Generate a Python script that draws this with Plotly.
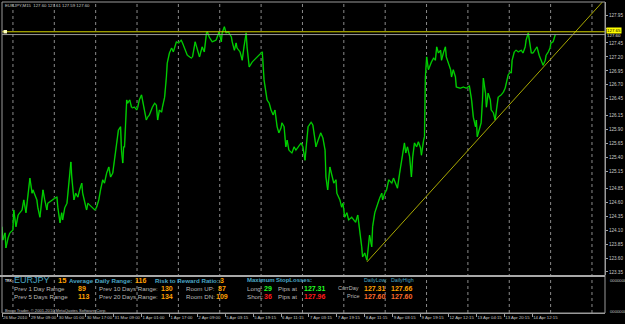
import plotly.graph_objects as go

# ---------------- data ----------------
header_text = "EURJPY,M15  127.60 127.61 127.59 127.60"

# M15 bar index (from left edge of chart) and close price
bar = [0, 2, 7, 9, 14, 18, 25, 27, 32, 37, 46, 50, 55, 59, 64, 69, 71, 80, 82, 87,
       91, 94, 98, 103, 105, 114, 121, 126, 128, 133, 137, 139, 144, 149, 151, 155, 158, 160, 162, 165,
       169, 174, 178, 183, 185, 190, 194, 197, 206, 213, 217, 222, 226, 231, 235, 240, 245, 249, 254, 258,
       263, 267, 272, 274, 277, 279, 281, 283, 286, 288, 293, 297, 299, 304, 309, 311, 315, 320, 322, 327,
       331, 334, 338, 345, 350, 354, 357, 361, 366, 368, 373, 377, 379, 384, 389, 393, 400, 405, 411, 414,
       421, 425, 434, 437, 443, 448, 453, 459, 464, 469, 471, 475, 482, 491, 494, 498, 503, 505, 510, 514,
       519, 526, 528, 533, 537, 539, 546, 551, 555, 560, 562, 567, 574, 583, 590, 597, 601, 606, 608, 613,
       617, 622, 626, 631, 635, 640, 642, 647, 651, 654, 658, 665, 670, 674, 679, 686, 690, 695, 697, 702,
       709, 713, 718, 720, 725, 731, 736, 741, 743, 747, 752, 757, 761, 766, 768, 775, 779, 782, 786, 791,
       795, 802, 807, 811, 816, 821, 825, 827, 832, 837, 839, 843, 848, 850, 855, 859, 866, 871, 873, 878,
       882, 887, 894, 898, 903, 907, 912, 917, 919, 923, 926, 930, 935, 939, 942, 946, 951, 955, 960, 962,
       967, 969, 971, 974, 978, 983, 985, 990, 994, 997, 1001, 1006, 1008, 1013, 1017, 1019, 1024, 1029, 1031, 1035,
       1040, 1042, 1051, 1058, 1065, 1072, 1077, 1079, 1081, 1086, 1088, 1090, 1095, 1099, 1102, 1104, 1109, 1111, 1115, 1120,
       1122, 1127, 1131, 1134, 1138, 1145, 1150, 1154, 1159, 1161, 1166, 1168, 1170, 1175, 1179, 1184, 1191, 1195, 1200, 1202,
       1207, 1211, 1214, 1218, 1223, 1227, 1232, 1236, 1241, 1246, 1248, 1253, 1257, 1259, 1264, 1269]

close = [124.16, 123.92, 124.05, 123.78, 123.96, 124.05, 124.10, 124.46, 124.16, 124.37, 124.46, 124.64, 124.41, 124.69, 125.03, 124.76, 124.82, 124.64, 124.51, 124.33,
         124.67, 124.82, 124.64, 124.46, 124.58, 124.64, 124.67, 124.69, 124.51, 124.23, 124.41, 124.28, 124.50, 124.58, 124.76, 125.12, 125.32, 125.05, 124.82, 124.64,
         124.76, 124.69, 124.82, 124.94, 124.76, 124.58, 124.46, 124.58, 124.51, 124.46, 124.51, 124.64, 124.82, 125.00, 124.94, 125.12, 125.23, 125.05, 125.12, 125.35,
         125.66, 125.89, 125.95, 125.53, 125.30, 125.59, 125.59, 125.95, 126.43, 126.37, 126.43, 126.30, 126.29, 126.30, 126.25, 126.29, 126.43, 126.52, 126.43, 126.20,
         126.07, 126.12, 126.16, 126.30, 126.37, 126.34, 126.07, 126.25, 126.21, 126.30, 126.48, 126.84, 127.09, 127.27, 127.36, 127.29, 127.47, 127.45, 127.50, 127.45,
         127.29, 127.23, 127.18, 127.20, 127.47, 127.32, 127.20, 127.38, 127.29, 127.63, 127.65, 127.56, 127.47, 127.50, 127.56, 127.65, 127.47, 127.63, 127.74, 127.63,
         127.65, 127.56, 127.47, 127.32, 127.45, 127.36, 127.29, 127.14, 127.38, 127.63, 127.38, 127.02, 127.11, 127.18, 127.23, 127.29, 126.79, 126.48, 126.43, 126.37,
         126.25, 126.16, 126.25, 125.95, 125.84, 125.93, 126.02, 125.95, 125.59, 125.71, 125.53, 125.48, 125.59, 125.53, 125.59, 125.66, 125.59, 125.35, 125.53, 125.95,
         126.03, 125.98, 125.71, 125.59, 125.71, 125.84, 125.75, 125.53, 125.05, 124.82, 125.23, 125.05, 124.94, 125.00, 124.76, 124.64, 124.51, 124.58, 124.33, 124.41,
         124.28, 124.33, 124.28, 124.24, 124.37, 124.10, 123.80, 123.62, 123.69, 123.56, 123.74, 124.01, 123.80, 124.16, 124.41, 124.51, 124.67, 124.76, 124.64, 124.76,
         124.82, 125.00, 124.94, 125.03, 124.94, 124.85, 125.12, 125.35, 125.41, 125.66, 125.48, 125.59, 125.41, 125.05, 125.41, 125.66, 125.59, 125.68, 125.57, 125.44,
         125.71, 125.77, 126.84, 127.20, 126.97, 127.09, 127.11, 127.18, 127.14, 127.38, 127.27, 127.32, 127.14, 127.29, 127.38, 127.20, 127.09, 126.97, 126.84, 126.97,
         126.84, 126.66, 126.64, 126.66, 126.64, 126.68, 126.43, 126.20, 126.12, 125.95, 126.07, 125.77, 125.89, 126.02, 126.43, 126.82, 126.55, 126.30, 126.55, 126.43,
         126.25, 126.20, 126.07, 126.30, 126.48, 126.52, 126.57, 126.64, 126.79, 126.88, 126.93, 126.91, 127.14, 127.29, 127.32, 127.29, 127.32, 127.27, 127.38, 127.50,
         127.63, 127.41, 127.27, 127.27, 127.32, 127.38, 127.23, 127.14, 127.05, 127.14, 127.23, 127.29, 127.36, 127.45, 127.47, 127.60]

price_ticks = [127.95, 127.70, 127.45, 127.20, 126.95, 126.70, 126.45, 126.15, 125.90, 125.65,
               125.40, 125.15, 124.85, 124.60, 124.35, 124.10, 123.85, 123.60, 123.35]
# the 127.70 label sits behind the object price tags in the reference
hidden_price_labels = [127.70]

time_labels = ["26 Mar 2010", "29 Mar 09:00", "30 Mar 01:00", "30 Mar 17:00", "31 Mar 09:00",
               "1 Apr 01:00", "1 Apr 17:00", "2 Apr 09:00", "5 Apr 03:15", "5 Apr 19:15",
               "6 Apr 11:15", "7 Apr 03:15", "7 Apr 19:15", "8 Apr 11:15", "9 Apr 03:15",
               "9 Apr 19:15", "12 Apr 12:15", "13 Apr 04:15", "13 Apr 20:15", "14 Apr 12:15"]
bars_per_label = 64

# drawn objects
trend_bars = [837, 1090]
trend_prices = [123.53, 125.71]
hline_level = 127.65
bid_price = 127.60

# indicator panel values
pair_name = "EURJPY"
pair_tf = "15"
avg_daily_range = 116
risk_reward = 3
prev_range_labels = ["Prev 1 Day Range", "Prev 5 Days Range", "Prev 10 Days Range:", "Prev 20 Days Range:"]
prev_range_values = [89, 113, 130, 134]
room_labels = ["Room UP:", "Room DN:"]
room_values = [87, 109]
sl_labels = ["Long:", "Short:"]
sl_pips = [29, 36]
sl_prices = ["127.31", "127.96"]
daily_low = ["127.31", "127.60"]
daily_high = ["127.66", "127.60"]

# ---------------- layout geometry ----------------
W, H = 625, 324
L, R, T, B = 2, 18, 2, 11
PW, PH = W - L - R, H - T - B
X_MAX = 1383
Y_RANGE = [123.287, 128.183]
MAIN_DOM = [0.1206, 1.0]
SUB_DOM = [0.0, 0.1174]


def px(x):
    return (x - L) / PW


def py(y):
    return (H - B - y) / PH


fig = go.Figure()

# price line (dark underlay + bright line)
fig.add_trace(go.Scatter(x=bar, y=close, mode="lines", line=dict(color="#006400", width=1.6),
                         hoverinfo="skip", showlegend=False))
fig.add_trace(go.Scatter(x=bar, y=close, mode="lines", line=dict(color="#00e400", width=0.9),
                         showlegend=False))

# trendline ray
slope = (trend_prices[1] - trend_prices[0]) / (trend_bars[1] - trend_bars[0])
ray_x = [trend_bars[0], X_MAX + 50]
ray_y = [trend_prices[0], trend_prices[0] + slope * (ray_x[1] - trend_bars[0])]
fig.add_trace(go.Scatter(x=ray_x, y=ray_y, mode="lines", line=dict(color="#a8a800", width=1),
                         hoverinfo="skip", showlegend=False))

shapes = []
# vertical dotted grid
g = 25.1
while g < X_MAX:
    shapes.append(dict(type="line", xref="x", yref="paper", x0=g, x1=g, y0=0, y1=1,
                       line=dict(color="#8a8a8a", width=1, dash="dot"), layer="below"))
    g += 94.86
# horizontal yellow line and bid line
shapes.append(dict(type="line", xref="paper", yref="y", x0=0, x1=1, y0=hline_level, y1=hline_level,
                   line=dict(color="#d4d400", width=1)))
shapes.append(dict(type="line", xref="paper", yref="y", x0=0, x1=1, y0=bid_price, y1=bid_price,
                   line=dict(color="#9a9a9a", width=1)))
# hline handle
shapes.append(dict(type="rect", xref="paper", yref="y", x0=px(3.5), x1=px(7), y0=hline_level - 0.03,
                   y1=hline_level + 0.03, fillcolor="#ffffc0", line=dict(width=0)))
# frame
shapes.append(dict(type="rect", xref="paper", yref="paper", x0=0, x1=1, y0=0, y1=1,
                   line=dict(color="#9a9a9a", width=1)))
# subwindow separator
shapes.append(dict(type="line", xref="paper", yref="paper", x0=-0.01, x1=1, y0=py(276), y1=py(276),
                   line=dict(color="#a8a8a8", width=2)))

TEAL = "#4aa6c4"
GRAY = "#b8b8b8"
ORANGE = "#ffa000"
ORED = "#ff6a2a"
LIME = "#22ff22"
RED = "#ff1a1a"
FONT = "Liberation Sans"


def ann(text, x, y, color, size, bold=False):
    return dict(text=("<b>%s</b>" % text) if bold else text, x=px(x), y=py(y), xref="paper", yref="paper",
                xanchor="left", yanchor="middle", showarrow=False,
                font=dict(family=FONT, size=size, color=color))


anns = []
anns.append(ann(header_text, 3, 5, "#c8c8c8", 4.3))
anns.append(ann("TRK", 3, 281, "#d8d8d8", 3.3, True))
anns.append(ann(pair_name, 12, 280, TEAL, 9))
anns.append(ann(pair_tf, 56, 280, ORANGE, 7.5, True))
anns.append(ann("Average Daily Range:", 67, 280, TEAL, 6.2, True))
anns.append(ann(str(avg_daily_range), 133, 280, ORANGE, 7, True))
anns.append(ann("Risk to Reward Ratio:", 153, 280, TEAL, 6.2, True))
anns.append(ann(str(risk_reward), 219, 280, ORANGE, 7, True))
anns.append(ann("Maximum", 246, 280, TEAL, 6, True))
anns.append(ann("StopLosses:", 275, 280, TEAL, 6, True))
anns.append(ann("DailyLow:", 363, 280, TEAL, 5.3))
anns.append(ann("DailyHigh", 390, 280, TEAL, 5.3))

rows = [288, 296]
for i, yy in enumerate(rows):
    anns.append(ann(prev_range_labels[i], 12, yy, GRAY, 6.2))
    anns.append(ann(str(prev_range_values[i]), 76, yy, ORANGE, 7, True))
    anns.append(ann(prev_range_labels[i + 2], 97, yy, GRAY, 6.2))
    anns.append(ann(str(prev_range_values[i + 2]), 160, yy, ORANGE, 7, True))
    anns.append(ann(room_labels[i], 185, yy, GRAY, 6.2))
    anns.append(ann(str(room_values[i]), 215 if i else 217, yy, ORANGE, 7, True))
    c = LIME if i == 0 else RED
    anns.append(ann(sl_labels[i], 246, yy, GRAY, 6.2))
    anns.append(ann(str(sl_pips[i]), 263, yy, c, 7, True))
    anns.append(ann("Pips at", 277, yy, GRAY, 6.2))
    anns.append(ann(sl_prices[i], 303, yy, c, 7, True))
    anns.append(ann("CurrDay" if i == 0 else "Price", 337 if i == 0 else 346, yy, GRAY, 5.5))
    anns.append(ann(daily_low[i], 363, yy, ORANGE if i == 0 else ORED, 7, True))
    anns.append(ann(daily_high[i], 390, yy, ORANGE if i == 0 else ORED, 7, True))

anns.append(ann("Broco Trader, © 2001-2010 MetaQuotes Software Corp.", 3, 310.5, "#c0c0c0", 4.1))

# right axis price labels for objects
anns.append(dict(text="%.2f" % bid_price, x=1, y=bid_price - 0.01, xref="paper", yref="y", xanchor="left",
                 yanchor="middle", xshift=1, showarrow=False, bgcolor="#000000", borderpad=0,
                 font=dict(family=FONT, size=4.4, color="#e0e0e0")))
anns.append(dict(text="%.2f" % hline_level, x=1, y=hline_level + 0.03, xref="paper", yref="y",
                 xanchor="left", yanchor="middle", xshift=1, showarrow=False, bgcolor="#ffff00", borderpad=0,
                 font=dict(family=FONT, size=4.4, color="#000000")))
# subwindow scale labels
for yy in (280, 311.5):
    anns.append(ann("0000000", 610, yy, "#c0c0c0", 4.2))

tick_x = [i * bars_per_label for i in range(len(time_labels))]
price_text = ["" if v in hidden_price_labels else "%.2f" % v for v in price_ticks]

fig.update_layout(
    width=W, height=H,
    margin=dict(l=L, r=R, t=T, b=B, pad=0),
    paper_bgcolor="#000000", plot_bgcolor="#000000",
    showlegend=False,
    shapes=shapes, annotations=anns,
    xaxis=dict(range=[0, X_MAX], anchor="free", position=0, side="bottom", showgrid=False, zeroline=False,
               tickvals=tick_x, ticktext=time_labels, tickangle=0,
               ticks="outside", ticklen=3, tickcolor="#a0a0a0", tickwidth=1,
               ticklabelposition="outside right",
               tickfont=dict(family=FONT, size=4.3, color="#c8c8c8"),
               showline=True, linecolor="#9a9a9a", linewidth=1),
    yaxis=dict(domain=MAIN_DOM, range=Y_RANGE, side="right", anchor="x", showgrid=False, zeroline=False,
               tickvals=price_ticks, ticktext=price_text,
               ticks="outside", ticklen=2, tickcolor="#a0a0a0",
               tickfont=dict(family=FONT, size=4.6, color="#c8c8c8"),
               showline=True, linecolor="#9a9a9a"),
    yaxis2=dict(domain=SUB_DOM, range=[0, 1], side="right", anchor="x", showgrid=False, zeroline=False,
                showticklabels=False, ticks="outside", ticklen=2, tickcolor="#a0a0a0", tickvals=[0.9, 0.04],
                showline=True, linecolor="#9a9a9a"),
)

fig.write_html("out.html")
